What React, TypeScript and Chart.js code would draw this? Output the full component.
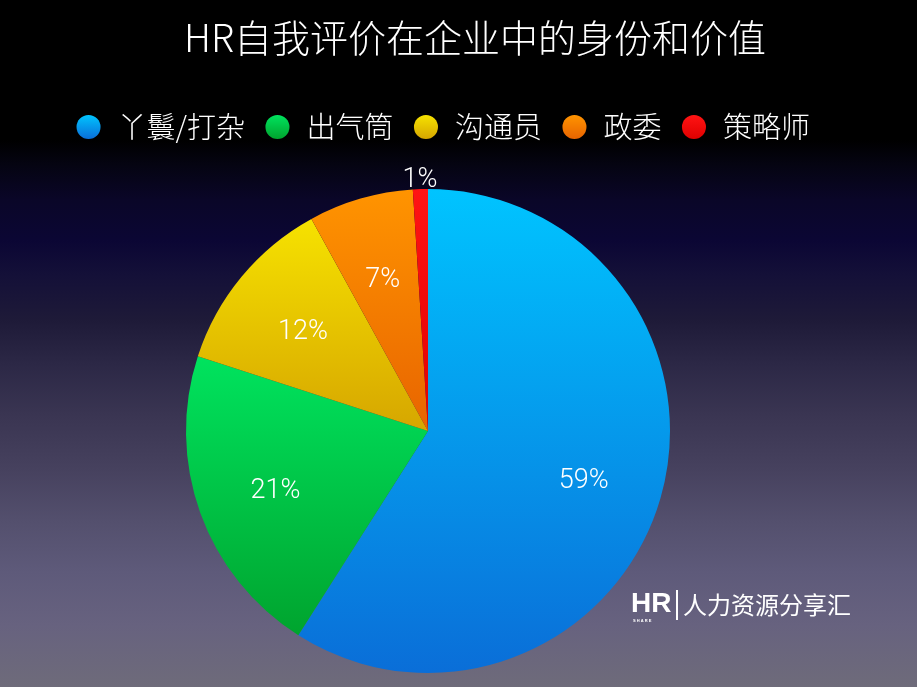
import React, { useEffect, useRef } from "react";
import { Chart, registerables } from "chart.js";

Chart.register(...registerables);

const TITLE = "HR自我评价在企业中的身份和价值";
const LABELS = ["丫鬟/打杂", "出气筒", "沟通员", "政委", "策略师"];
const VALUES = [59, 21, 12, 7, 1];
const TOP_COLORS = ["#00c4ff", "#00e35e", "#f6e200", "#ff9400", "#ff1414"];
const BOTTOM_COLORS = ["#0a6ed8", "#00a42e", "#d6a600", "#e86400", "#e00000"];
const WATERMARK_LOGO = "HR";
const WATERMARK_TEXT = "人力资源分享汇";

const CJK = "'Noto Sans CJK SC', 'Noto Sans', sans-serif";

function sliceGradient(chart: any, i: number) {
  const area = chart.chartArea;
  if (!area || i === undefined || i === null) return TOP_COLORS[i ?? 0];
  const cx = (area.left + area.right) / 2;
  const cy = (area.top + area.bottom) / 2;
  const R = Math.min(area.right - area.left, area.bottom - area.top) / 2;
  const total = VALUES.reduce((a, b) => a + b, 0);
  let cum = 0;
  for (let k = 0; k < i; k++) cum += VALUES[k];
  const start = -Math.PI / 2 + (2 * Math.PI * cum) / total;
  const end = start + (2 * Math.PI * VALUES[i]) / total;
  const ys = [cy, cy + R * Math.sin(start), cy + R * Math.sin(end)];
  const has = (a: number) => {
    for (let t = a - 4 * Math.PI; t <= a + 4 * Math.PI; t += 2 * Math.PI) {
      if (t >= start && t <= end) return true;
    }
    return false;
  };
  if (has(Math.PI / 2)) ys.push(cy + R);
  if (has(-Math.PI / 2)) ys.push(cy - R);
  const y0 = Math.min(...ys);
  const y1 = Math.max(...ys);
  const g = chart.ctx.createLinearGradient(0, y0, 0, y1 + 0.01);
  g.addColorStop(0, TOP_COLORS[i]);
  g.addColorStop(1, BOTTOM_COLORS[i]);
  return g;
}

const titlePlugin = {
  id: "customTitle",
  afterDraw(chart: any) {
    const ctx = chart.ctx;
    ctx.save();
    ctx.fillStyle = "#ffffff";
    ctx.font = `300 38px ${CJK}`;
    ctx.textAlign = "center";
    ctx.textBaseline = "middle";
    ctx.fillText(TITLE, 475, 38);
    ctx.restore();
  },
};

const labelPlugin = {
  id: "sliceLabels",
  afterDatasetsDraw(chart: any) {
    const ctx = chart.ctx;
    const meta = chart.getDatasetMeta(0);
    ctx.save();
    ctx.fillStyle = "#ffffff";
    ctx.font = "300 27px Roboto, 'Liberation Sans', sans-serif";
    ctx.textAlign = "center";
    ctx.textBaseline = "middle";
    meta.data.forEach((arc: any, i: number) => {
      const p = arc.getProps(["x", "y", "startAngle", "endAngle", "outerRadius"], true);
      const mid = (p.startAngle + p.endAngle) / 2;
      const r = VALUES[i] < 3 ? p.outerRadius + 14 : p.outerRadius * 0.67;
      ctx.fillText(VALUES[i] + "%", p.x + r * Math.cos(mid), p.y + r * Math.sin(mid) + 5);
    });
    ctx.restore();
  },
};

const watermarkPlugin = {
  id: "watermark",
  afterDraw(chart: any) {
    const ctx = chart.ctx;
    ctx.save();
    ctx.fillStyle = "#ffffff";
    ctx.textBaseline = "middle";
    ctx.textAlign = "left";
    ctx.font = "bold 28px 'Liberation Sans', sans-serif";
    ctx.fillText(WATERMARK_LOGO, 631, 604);
    ctx.font = "bold 4px 'Liberation Sans', sans-serif";
    ctx.fillText("S H A R E", 633, 621);
    ctx.fillRect(676, 590, 2, 30);
    ctx.font = `24px ${CJK}`;
    ctx.fillText(WATERMARK_TEXT, 683, 605);
    ctx.restore();
  },
};

export default function App() {
  const ref = useRef<HTMLCanvasElement | null>(null);

  useEffect(() => {
    if (!ref.current) return;
    const defaultGen = (Chart as any).overrides.pie.plugins.legend.labels.generateLabels;
    const chart = new Chart(ref.current, {
      type: "pie",
      data: {
        labels: LABELS,
        datasets: [
          {
            data: VALUES,
            backgroundColor: (c: any) => sliceGradient(c.chart, c.dataIndex),
            borderWidth: 0,
          },
        ],
      },
      options: {
        animation: false,
        responsive: false,
        maintainAspectRatio: false,
        layout: { padding: { top: 94.5, right: 33, bottom: 14, left: 0 } },
        plugins: {
          legend: {
            display: true,
            position: "top",
            labels: {
              usePointStyle: true,
              pointStyle: "circle",
              boxHeight: 17,
              padding: 18,
              color: "#ffffff",
              font: { size: 29, family: CJK, weight: "300" },
              generateLabels: (ch: any) => {
                const items = defaultGen(ch);
                return items.map((it: any, i: number) => {
                  const g = ch.ctx.createLinearGradient(0, 115, 0, 139);
                  g.addColorStop(0, TOP_COLORS[i]);
                  g.addColorStop(1, BOTTOM_COLORS[i]);
                  return { ...it, fillStyle: g, strokeStyle: g, lineWidth: 0, fontColor: "#ffffff", pointStyle: "circle" };
                });
              },
            },
          },
          title: {
            display: true,
            text: "",
            position: "top",
            weight: 500,
            font: { size: 10, lineHeight: 1 },
            padding: { top: 27.5, bottom: 0 },
          },
          subtitle: {
            display: true,
            text: "",
            position: "right",
            font: { size: 10, lineHeight: 1 },
            padding: { top: 9, bottom: 9 },
          },
          tooltip: { enabled: false },
        },
      } as any,
      plugins: [titlePlugin, labelPlugin, watermarkPlugin],
    });
    return () => chart.destroy();
  }, []);

  return (
    <div
      style={{
        position: "fixed",
        left: 0,
        top: 0,
        width: 917,
        height: 687,
        background:
          "linear-gradient(to bottom, #000000 0px, #000000 140px, #050412 165px, #0a0628 200px, #0b0634 240px, #141038 275px, #1e1a38 320px, #2c2846 365px, #3a3552 415px, #46415e 468px, #54506e 523px, #5e5a7a 572px, #67627f 625px, #6e6b7a 687px)",
      }}
    >
      <canvas ref={ref} width={917} height={687} style={{ display: "block", width: 917, height: 687 }} />
    </div>
  );
}
